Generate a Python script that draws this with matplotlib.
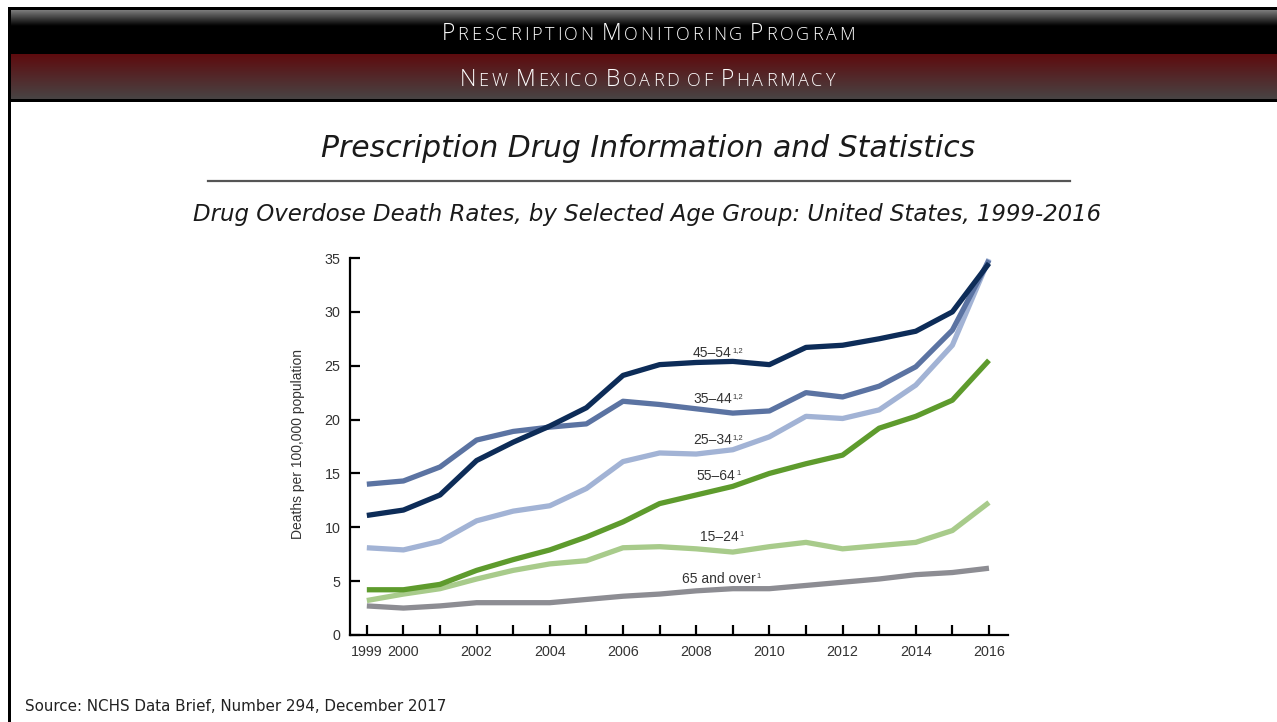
import numpy as np
import matplotlib
matplotlib.use("Agg")
import matplotlib.pyplot as plt

# ---------------- data ----------------
years = list(range(1999, 2017))
age_45_54 = [11.1, 11.6, 13.0, 16.2, 17.9, 19.4, 21.1, 24.1, 25.1, 25.3, 25.4, 25.1, 26.7, 26.9, 27.5, 28.2, 30.0, 34.5]
age_35_44 = [14.0, 14.3, 15.6, 18.1, 18.9, 19.3, 19.6, 21.7, 21.4, 21.0, 20.6, 20.8, 22.5, 22.1, 23.1, 24.9, 28.3, 34.8]
age_25_34 = [8.1, 7.9, 8.7, 10.6, 11.5, 12.0, 13.6, 16.1, 16.9, 16.8, 17.2, 18.4, 20.3, 20.1, 20.9, 23.2, 26.9, 34.9]
age_55_64 = [4.2, 4.2, 4.7, 6.0, 7.0, 7.9, 9.1, 10.5, 12.2, 13.0, 13.8, 15.0, 15.9, 16.7, 19.2, 20.3, 21.8, 25.5]
age_15_24 = [3.2, 3.8, 4.3, 5.2, 6.0, 6.6, 6.9, 8.1, 8.2, 8.0, 7.7, 8.2, 8.6, 8.0, 8.3, 8.6, 9.7, 12.3]
age_65_over = [2.7, 2.5, 2.7, 3.0, 3.0, 3.0, 3.3, 3.6, 3.8, 4.1, 4.3, 4.3, 4.6, 4.9, 5.2, 5.6, 5.8, 6.2]

series_names = ["65 and over", "15–24", "55–64", "25–34", "35–44", "45–54"]
series_notes = ["1", "1", "1", "1,2", "1,2", "1,2"]
series_values = [age_65_over, age_15_24, age_55_64, age_25_34, age_35_44, age_45_54]
series_colors = ["#8d8d93", "#a8cb8b", "#5e9b2d", "#a2b3d5", "#5b73a2", "#0d2c58"]
# label anchor (left x in years, baseline y in data units)
label_pos = [(2007.61, 4.83), (2008.10, 8.73), (2008.02, 14.39),
             (2007.91, 17.73), (2007.91, 21.54), (2007.91, 25.81)]

xtick_labels = ["1999", "2000", "", "2002", "", "2004", "", "2006", "", "2008", "",
                "2010", "", "2012", "", "2014", "", "2016"]
yticks = [0, 5, 10, 15, 20, 25, 30, 35]

header1 = "Prescription Monitoring Program"
header2 = "New Mexico Board of Pharmacy"
title = "Prescription Drug Information and Statistics"
subtitle = "Drug Overdose Death Rates, by Selected Age Group: United States, 1999-2016"
source = "Source: NCHS Data Brief, Number 294, December 2017"
ylabel = "Deaths per 100,000 population"

header_font = "Open Sans"
slide_font = "DejaVu Sans"
chart_font = "Liberation Sans"

W, H = 1277, 722
fig = plt.figure(figsize=(W / 100, H / 100), dpi=100)
fig.patch.set_facecolor("white")

# ---------------- slide background ----------------
bg = fig.add_axes([0, 0, 1, 1])
bg.set_xlim(0, W)
bg.set_ylim(H, 0)
bg.axis("off")

def vgrad(ax, x0, x1, y0, y1, c_top, c_bot, n=64, stops=None):
    c_top = np.array(matplotlib.colors.to_rgb(c_top))
    c_bot = np.array(matplotlib.colors.to_rgb(c_bot))
    t = np.linspace(0, 1, n)
    if stops is not None:
        t = np.clip(t / stops, 0, 1)
    arr = (c_top[None, :] * (1 - t[:, None]) + c_bot[None, :] * t[:, None])[:, None, :]
    ax.imshow(arr, extent=(x0, x1, y1, y0), origin="upper", aspect="auto",
              interpolation="bilinear", zorder=1)

bg.add_patch(plt.Rectangle((8, 7), W - 8, 3, color="black", zorder=2, lw=0))
vgrad(bg, 11, W, 10, 54, "#7c7c7c", "#000000", n=128, stops=0.36)
vgrad(bg, 11, W, 54, 99, "#5e0b0e", "#484444", n=128)
bg.add_patch(plt.Rectangle((8, 99), W - 8, 2.5, color="black", zorder=2, lw=0))
bg.add_patch(plt.Rectangle((8, 7), 3, H - 7, color="black", zorder=2, lw=0))
bg.set_xlim(0, W)
bg.set_ylim(H, 0)

renderer = fig.canvas.get_renderer()

def smallcaps(ax, s, xc, yb, big, small, color, family, track=2.8):
    items = []
    words = s.split()
    for wi, w in enumerate(words):
        for ci, ch in enumerate(w):
            size = big if (ci == 0 and ch.isupper()) else small
            items.append(ax.text(0, yb, ch.upper(), fontsize=size, color=color,
                                 family=family, weight="light", va="baseline",
                                 ha="left", zorder=5))
        if wi < len(words) - 1:
            items.append(None)
    space = 0.28 * small * 100 / 72
    widths = []
    for it in items:
        if it is None:
            widths.append(space)
        else:
            widths.append(it.get_window_extent(renderer).width + track)
    total = sum(widths) - track
    x = xc - total / 2
    for it, w in zip(items, widths):
        if it is not None:
            it.set_x(x)
        x += w

smallcaps(bg, header1, 648, 39.5, 16.5, 13, "#ffffff", header_font)
smallcaps(bg, header2, 647, 86, 16.5, 13, "#ffffff", header_font)

bg.text(648, 157, title, fontsize=21.5, style="italic", family=slide_font,
        color="#1a1a1a", ha="center", va="baseline", zorder=5)
bg.plot([208, 1070], [181, 181], color="#555555", lw=1.6, zorder=5)
bg.text(647, 221, subtitle, fontsize=16.5, style="italic", family=slide_font,
        color="#1a1a1a", ha="center", va="baseline", zorder=5)
bg.text(25, 711, source, fontsize=10.9, family=slide_font, color="#222222",
        ha="left", va="baseline", zorder=5)

# ---------------- chart ----------------
ax = fig.add_axes([350 / W, 1 - 635 / H, 658 / W, 377 / H])
ax.set_facecolor("none")
for vals, col in zip(series_values, series_colors):
    ax.plot(years, vals, color=col, lw=3.8, solid_capstyle="butt",
            solid_joinstyle="round", zorder=3)
for name, note, (lx, ly) in zip(series_names, series_notes, label_pos):
    t = ax.text(lx, ly, name, fontsize=10, family=chart_font, color="#333333",
                ha="left", va="baseline", zorder=4)
    ax.annotate(note, xy=(1, 1), xycoords=t, xytext=(0.6, -0.5),
                textcoords="offset points", fontsize=5.5, family=chart_font,
                color="#333333", ha="left", va="top", zorder=4)

ax.set_xlim(1998.54, 2016.52)
ax.set_ylim(0, 35)
ax.set_xticks(years)
ax.set_xticklabels(xtick_labels)
ax.set_yticks(yticks)
for sp in ["top", "right"]:
    ax.spines[sp].set_visible(False)
for sp in ["left", "bottom"]:
    ax.spines[sp].set_linewidth(1.6)
    ax.spines[sp].set_color("black")
ax.tick_params(axis="both", direction="in", length=7, width=1.6, color="black",
               labelsize=10.3, labelcolor="#333333")
ax.tick_params(axis="x", pad=7)
ax.tick_params(axis="y", pad=7)
for tl in ax.get_xticklabels() + ax.get_yticklabels():
    tl.set_family(chart_font)
ax.text(-0.079, 0.507, ylabel, transform=ax.transAxes, rotation=90,
        fontsize=10, family=chart_font, color="#333333", ha="center", va="center")

fig.savefig("out.png", dpi=100)
